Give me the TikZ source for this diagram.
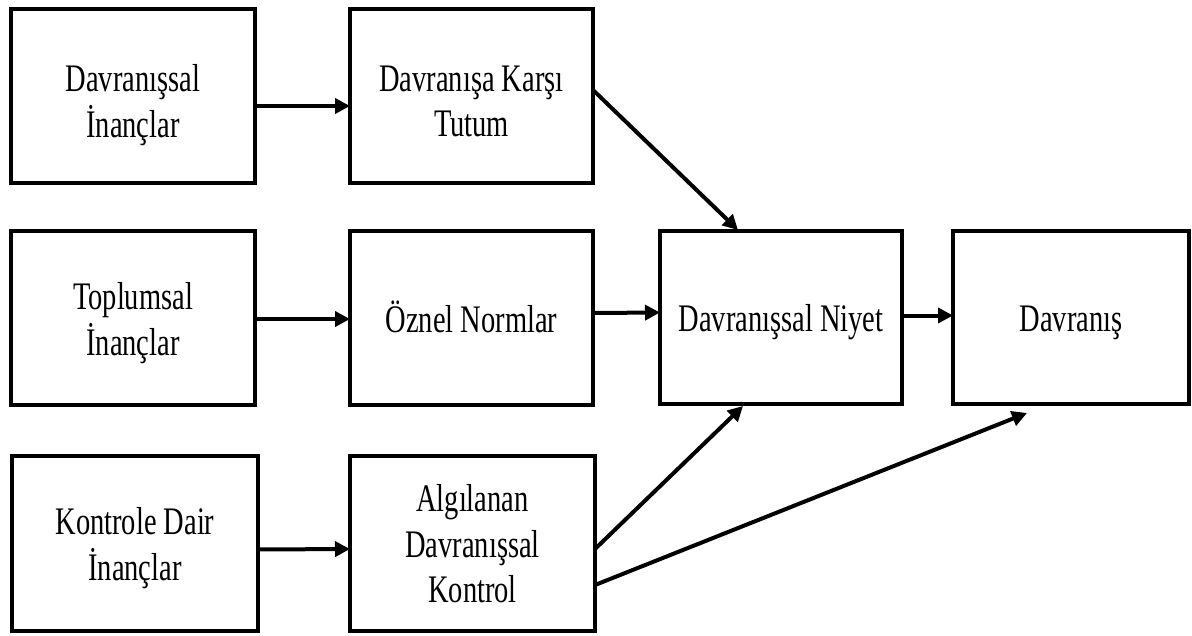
\documentclass[tikz,border=0pt]{standalone}
\usepackage{fontspec}
\setmainfont[FakeStretch=0.73]{Liberation Serif}
\usetikzlibrary{arrows.meta}
% centred block of lines, lowered a little inside its box
% (the reported height and depth stay those of the unshifted block)
\newcommand{\boxtext}[2][-5pt]{\raisebox{#1}[\height][\depth]{\begin{tabular}{@{}c@{}}#2\end{tabular}}}
\begin{document}
\begin{tikzpicture}[x=1pt,y=-1pt,
  box/.style={draw=black,line width=4pt,fill=white,
    inner sep=0pt,outer sep=0pt,
    font=\fontsize{39pt}{45.5pt}\selectfont},
  link/.style={line width=4pt,-{Triangle[length=15pt,width=15pt]}}]
\useasboundingbox (0,0) rectangle (1192,635);
% first column: beliefs
\node[box,minimum width=244pt,minimum height=174pt] (A) at (133,96) {\boxtext[-9pt]{Davranışsal\\İnançlar}};
\node[box,minimum width=244pt,minimum height=174pt] (C) at (133,318) {\boxtext{Toplumsal\\İnançlar}};
\node[box,minimum width=246pt,minimum height=175pt] (G) at (135,543.5) {\boxtext{Kontrole Dair\\İnançlar}};
% second column
\node[box,minimum width=243pt,minimum height=174pt] (B) at (471.5,96) {\boxtext[-9pt]{Davranışa Karşı\\Tutum}};
\node[box,minimum width=243pt,minimum height=174pt] (D) at (471.5,318) {\boxtext{Öznel Normlar}};
\node[box,minimum width=245pt,minimum height=175pt] (H) at (472.5,543) {\boxtext{Algılanan\\Davranışsal\\Kontrol}};
% intention and behaviour
\node[box,minimum width=242pt,minimum height=173pt] (E) at (781,317.5) {\boxtext{Davranışsal Niyet}};
\node[box,minimum width=236pt,minimum height=173pt] (F) at (1071,317.5) {\boxtext{Davranış}};
% connectors
\draw[link] ([yshift=-10pt]A.east) -- ([yshift=-10pt]B.west);
\draw[link] ([yshift=-1pt]C.east) -- ([yshift=-1pt]D.west);
\draw[link] ([yshift=-6pt]G.east) -- ([yshift=-6pt]H.west);
\draw[link] ([yshift=5pt]D.east) -- ([yshift=5pt]E.west);
\draw[link] ([yshift=2pt]E.east) -- ([yshift=2pt]F.west);
\draw[link] ([yshift=6pt]B.east) -- ([xshift=-43pt,yshift=1pt]E.north);
\draw[link] ([yshift=-6pt]H.east) -- ([xshift=-38pt,yshift=-2pt]E.south);
\draw[link] ([yshift=-42pt]H.east) -- ([xshift=-44pt,yshift=-9pt]F.south);
\end{tikzpicture}
\end{document}
